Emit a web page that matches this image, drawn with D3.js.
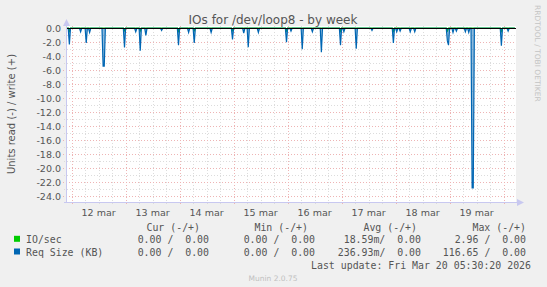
<!DOCTYPE html>
<html>
<head>
<meta charset="utf-8">
<script src="https://cdn.jsdelivr.net/npm/d3@7"></script>
<style>
  body { margin: 0; background: #f0f0f0; }
  svg { display: block; }
</style>
</head>
<body>
<svg id="chart" width="547" height="287"></svg>
<script>
// read spikes of "Req Size (KB)" (read side, drawn negative)
const reqTimes = [
  '2026-03-11 23:00', '2026-03-12 04:00', '2026-03-12 06:30', '2026-03-12 08:00',
  '2026-03-12 14:00', '2026-03-12 14:30', '2026-03-12 23:30', '2026-03-13 04:30',
  '2026-03-13 06:30', '2026-03-13 09:00', '2026-03-13 16:00', '2026-03-13 23:30',
  '2026-03-14 04:00', '2026-03-14 06:30', '2026-03-14 14:00', '2026-03-14 23:30',
  '2026-03-15 04:30', '2026-03-15 06:30', '2026-03-15 11:00', '2026-03-15 23:30',
  '2026-03-16 01:30', '2026-03-16 06:30', '2026-03-16 11:00', '2026-03-16 15:00',
  '2026-03-16 23:30', '2026-03-17 01:00', '2026-03-17 06:30', '2026-03-17 13:30',
  '2026-03-17 23:00', '2026-03-18 00:30', '2026-03-18 02:00', '2026-03-18 06:30',
  '2026-03-18 08:30', '2026-03-18 23:00', '2026-03-18 23:30', '2026-03-19 01:30',
  '2026-03-19 03:00', '2026-03-19 07:00', '2026-03-19 08:30', '2026-03-19 10:00',
  '2026-03-19 10:30', '2026-03-19 23:00', '2026-03-20 02:00'
];
const reqValues = [
  -2.3, -0.5, -2.1, -0.6,
  -5.4, -5.4, -2.75, -0.5,
  -3.2, -1.0, -0.3, -2.4,
  -0.6, -2.1, -0.6, -1.6,
  -0.7, -2.7, -0.6, -2.0,
  -0.4, -3.0, -0.5, -3.4,
  -2.4, -0.5, -2.9, -0.3,
  -2.1, -0.5, -0.4, -0.5,
  -0.5, -1.8, -2.4, -0.6,
  -0.4, -0.5, -0.6, -22.8,
  -22.8, -2.5, -0.4
];

// IO/sec, small read values
const ioTimes = [
  '2026-03-11 23:00', '2026-03-12 23:30', '2026-03-13 06:30', '2026-03-13 23:30',
  '2026-03-14 06:30', '2026-03-14 23:30', '2026-03-15 23:30', '2026-03-16 23:30',
  '2026-03-17 23:00', '2026-03-18 23:00', '2026-03-19 23:00'
];
const ioValues = [-0.4, -0.3, -0.35, -0.4, -0.3, -0.3, -0.35, -0.4, -0.4, -0.35, -0.4];

const yTicks = d3.range(0, -25, -2);
const yMinor = d3.range(-1, -25, -2);

const legendHeaders = ['Cur (-/+)', 'Min (-/+)', 'Avg (-/+)', 'Max (-/+)'];
const legendRows = [
  { name: 'IO/sec', color: '#00cc00', values: ['0.00 /  0.00', '0.00 /  0.00', '18.59m/  0.00', '2.96 /  0.00'] },
  { name: 'Req Size (KB)', color: '#0066b3', values: ['0.00 /  0.00', '0.00 /  0.00', '236.93m/  0.00', '116.65 /  0.00'] }
];

const parse = d3.timeParse('%Y-%m-%d %H:%M');
const start = parse('2026-03-11 21:57');
const end = parse('2026-03-20 05:30');

// build a 30 min series, zero except where a value was read
function series(times, values) {
  let lookup = new Map(times.map((t, i) => [+parse(t), values[i]]));
  return d3.timeMinute.every(30).range(d3.timeMinute.every(30).ceil(start), end)
    .map(t => ({ t: t, v: lookup.has(+t) ? lookup.get(+t) : 0 }));
}
const reqData = series(reqTimes, reqValues);
const ioData = series(ioTimes, ioValues);

const svg = d3.select('#chart');
const sans = 'DejaVu Sans, sans-serif';
const mono = 'DejaVu Sans Mono, monospace';

const x = d3.scaleTime().domain([start, end]).range([67, 516]);
const y = d3.scaleLinear().domain([-24.886, 0.3]).range([202.5, 26.2]);

// plot background
svg.append('rect')
  .attr('x', 67).attr('y', 26).attr('width', 449).attr('height', 176.5)
  .attr('fill', '#ffffff');

// grid
let grid = svg.append('g').attr('shape-rendering', 'crispEdges');
let hours6 = d3.timeHour.every(6).range(start, end).filter(d => d.getHours() !== 0);
let days = d3.timeDay.range(start, end);

grid.selectAll('line.vmin').data(hours6).enter().append('line')
  .attr('x1', d => Math.round(x(d)) + 0.5).attr('x2', d => Math.round(x(d)) + 0.5)
  .attr('y1', 26).attr('y2', 205)
  .attr('stroke', '#dcdcdc').attr('stroke-dasharray', '1,2');
grid.selectAll('line.hmin').data(yMinor).enter().append('line')
  .attr('x1', 64).attr('x2', 516)
  .attr('y1', d => Math.round(y(d)) + 0.5).attr('y2', d => Math.round(y(d)) + 0.5)
  .attr('stroke', '#dcdcdc').attr('stroke-dasharray', '1,2');
grid.selectAll('line.vmaj').data(days).enter().append('line')
  .attr('x1', d => Math.round(x(d)) + 0.5).attr('x2', d => Math.round(x(d)) + 0.5)
  .attr('y1', 26).attr('y2', 206)
  .attr('stroke', '#eeb4b4').attr('stroke-dasharray', '1,2');
grid.selectAll('line.hmaj').data(yTicks.filter(d => d !== 0)).enter().append('line')
  .attr('x1', 63).attr('x2', 516)
  .attr('y1', d => Math.round(y(d)) + 0.5).attr('y2', d => Math.round(y(d)) + 0.5)
  .attr('stroke', '#eeb4b4').attr('stroke-dasharray', '1,2');

// axes lines with arrows
let axisColor = '#c8c8f0';
svg.append('line').attr('x1', 66.5).attr('x2', 66.5).attr('y1', 203).attr('y2', 24)
  .attr('stroke', axisColor);
svg.append('path').attr('d', 'M63,26 L66.5,19 L70,26 Z').attr('fill', axisColor);
svg.append('line').attr('x1', 64).attr('x2', 518).attr('y1', 202.5).attr('y2', 202.5)
  .attr('stroke', axisColor);
svg.append('path').attr('d', 'M517,199 L524,202.5 L517,206 Z').attr('fill', axisColor);

// series
let area = d3.area().x(d => x(d.t)).y0(y(0)).y1(d => y(d.v));
let line = d3.line().x(d => x(d.t)).y(d => y(d.v));

svg.append('path').datum(ioData).attr('d', line)
  .attr('fill', 'none').attr('stroke', '#00cc00').attr('stroke-width', 1.5);
svg.append('path').datum(reqData).attr('d', area)
  .attr('fill', '#0066b3').attr('fill-opacity', 0.45);
svg.append('path').datum(reqData).attr('d', line)
  .attr('fill', 'none').attr('stroke', '#0066b3').attr('stroke-width', 1.2);

// zero line
svg.append('line').attr('x1', 67).attr('x2', 516)
  .attr('y1', Math.round(y(0)) + 0.5).attr('y2', Math.round(y(0)) + 0.5)
  .attr('stroke', '#000').attr('shape-rendering', 'crispEdges');

// y tick labels
svg.selectAll('text.ytick').data(yTicks).enter().append('text')
  .attr('x', 61).attr('y', d => y(d) + 3.5)
  .attr('text-anchor', 'end')
  .attr('font-family', sans).attr('font-size', 9.5).attr('fill', '#555')
  .text(d => d.toFixed(1));

// x tick labels at noon
let noons = days.map(d => d3.timeHour.offset(d, 12)).filter(d => d > start && d < end);
svg.selectAll('text.xtick').data(noons).enter().append('text')
  .attr('x', d => x(d)).attr('y', 216)
  .attr('text-anchor', 'middle')
  .attr('font-family', sans).attr('font-size', 9.5).attr('fill', '#555')
  .text(d => d.getDate() + ' mar');

// title and side texts
svg.append('text').attr('x', 273).attr('y', 24).attr('text-anchor', 'middle')
  .attr('font-family', sans).attr('font-size', 12).attr('fill', '#555')
  .text('IOs for /dev/loop8 - by week');
svg.append('text').attr('transform', 'translate(15,114) rotate(-90)')
  .attr('text-anchor', 'middle')
  .attr('font-family', sans).attr('font-size', 10).attr('fill', '#555')
  .text('Units read (-) / write (+)');
svg.append('text').attr('transform', 'translate(535,5) rotate(90)')
  .attr('font-family', sans).attr('font-size', 7.5).attr('fill', '#c4c4c4')
  .text('RRDTOOL / TOBI OETIKER');

// legend
const headerEnds = [200, 308, 417, 526];
const valueEnds = [209, 315, 421, 526];
svg.selectAll('text.lhead').data(legendHeaders).enter().append('text')
  .attr('x', (d, i) => headerEnds[i]).attr('y', 230.5)
  .attr('text-anchor', 'end').attr('xml:space', 'preserve')
  .attr('font-family', mono).attr('font-size', 9.9).attr('fill', '#555')
  .text(d => d);

legendRows.forEach((row, r) => {
  let by = 243.3 + r * 12.7;
  svg.append('rect').attr('x', 14).attr('y', by - 7.5).attr('width', 6).attr('height', 6)
    .attr('fill', row.color);
  svg.append('text').attr('x', 26).attr('y', by)
    .attr('font-family', mono).attr('font-size', 9.9).attr('fill', '#555')
    .text(row.name);
  row.values.forEach((v, i) => {
    svg.append('text').attr('x', valueEnds[i]).attr('y', by)
      .attr('text-anchor', 'end').attr('xml:space', 'preserve')
      .attr('font-family', mono).attr('font-size', 9.9).attr('fill', '#555')
      .text(v);
  });
});

svg.append('text').attr('x', 531).attr('y', 268.7).attr('text-anchor', 'end')
  .attr('font-family', mono).attr('font-size', 9.9).attr('fill', '#555')
  .text('Last update: Fri Mar 20 05:30:20 2026');
svg.append('text').attr('x', 273).attr('y', 280.5).attr('text-anchor', 'middle')
  .attr('font-family', sans).attr('font-size', 7.5).attr('fill', '#c0c0c0')
  .text('Munin 2.0.75');
</script>
</body>
</html>
